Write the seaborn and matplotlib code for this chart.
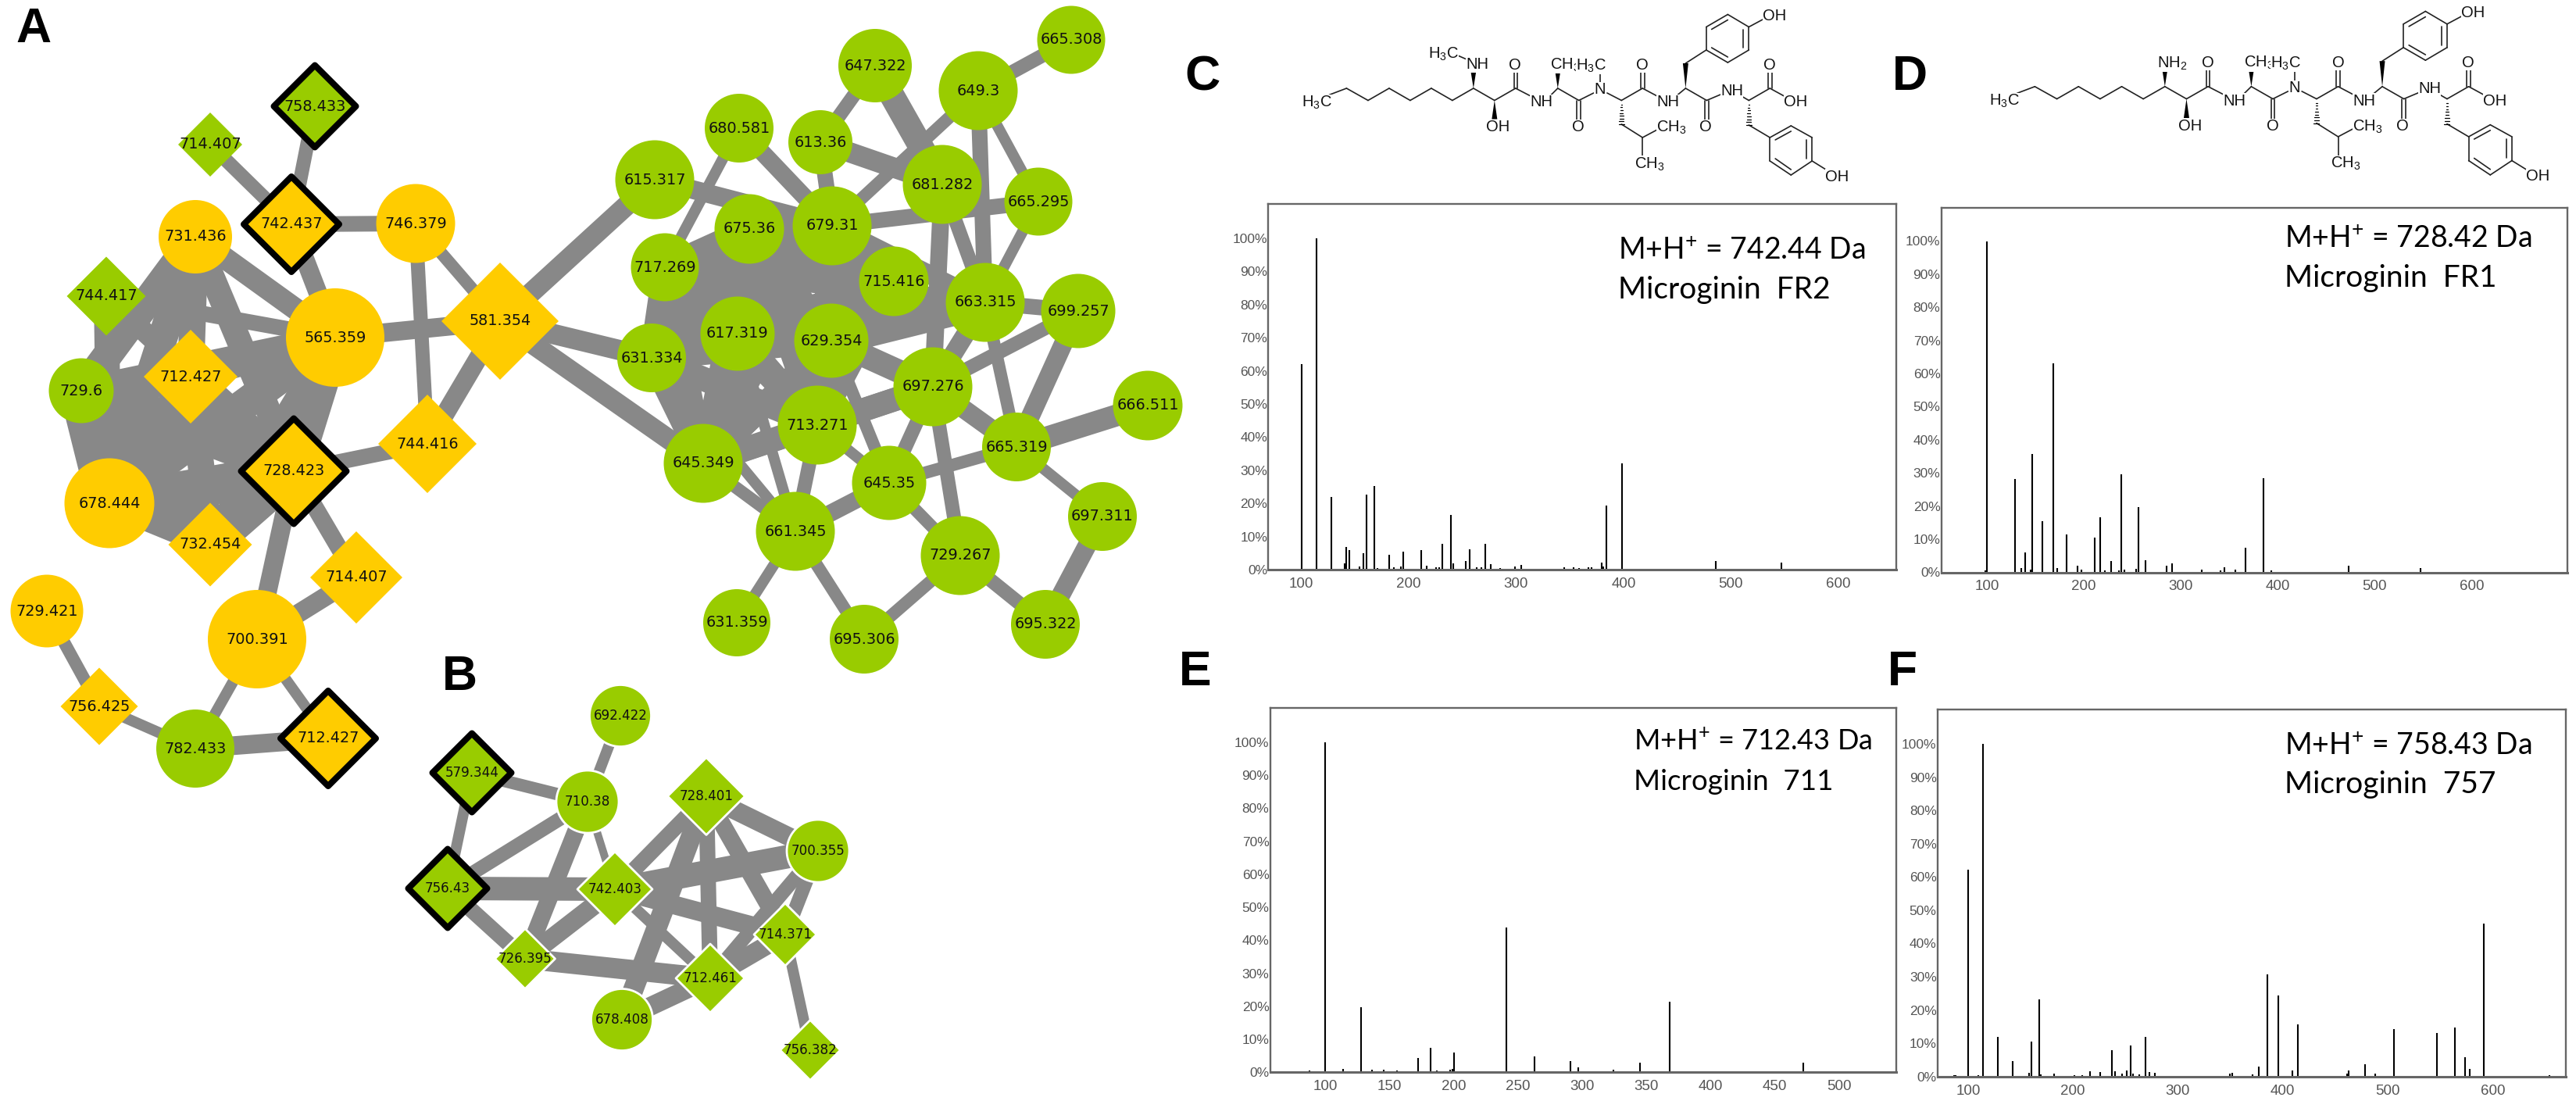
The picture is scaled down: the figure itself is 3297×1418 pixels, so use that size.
import matplotlib
matplotlib.use("Agg")
import matplotlib.pyplot as plt
import numpy as np
import pandas as pd
import seaborn as sns

W, H = 3298, 1418
PT = 0.72  # points per pixel at dpi=100
GREEN = "#99CC00"
ORANGE = "#FFCC00"
GREY = "#888888"

# network nodes: id, x, y, width in pixels, shape, colour
node_id = ["758.433", "714.407g", "742.437", "731.436", "746.379", "744.417", "565.359", "581.354",
           "712.427", "729.6", "728.423", "744.416", "678.444", "732.454", "714.407o", "729.421",
           "700.391", "756.425", "782.433", "712.427b",
           "665.308", "647.322", "649.3", "680.581", "613.36", "615.317", "681.282", "665.295",
           "675.36", "679.31", "717.269", "715.416", "663.315", "699.257", "617.319", "629.354",
           "631.334", "697.276", "666.511", "713.271", "665.319", "645.349", "645.35", "697.311",
           "661.345", "729.267", "631.359", "695.306", "695.322",
           "692.422", "579.344", "710.38", "728.401", "700.355", "756.43", "742.403", "726.395",
           "714.371", "712.461", "678.408", "756.382"]
node_x = [403, 269, 373, 250, 532, 136, 429, 640, 244, 104, 376, 547, 140, 269, 456, 60, 329, 127, 250, 420,
          1371, 1120, 1252, 946, 1050, 838, 1206, 1329, 959, 1065, 851, 1144, 1261, 1380, 944, 1064,
          834, 1194, 1469, 1046, 1301, 900, 1138, 1411, 1018, 1229, 943, 1106, 1338,
          794, 604, 752, 904, 1047, 573, 787, 672, 1005, 909, 796, 1037]
node_y = [136, 185, 287, 303, 286, 379, 432, 411, 482, 500, 603, 568, 644, 697, 739, 782, 818, 904, 958, 945,
          51, 84, 116, 164, 182, 230, 236, 258, 293, 289, 342, 360, 387, 398, 427, 436,
          458, 495, 519, 544, 572, 593, 618, 661, 680, 711, 797, 818, 799,
          916, 989, 1026, 1019, 1089, 1137, 1138, 1227, 1196, 1252, 1305, 1344]
node_w = [113, 82, 130, 94, 101, 101, 126, 150, 120, 83, 143, 126, 115, 107, 118, 93, 126, 99, 100, 130,
          87, 94, 101, 88, 82, 101, 101, 87, 89, 101, 87, 89, 101, 95, 95, 95,
          88, 101, 89, 101, 88, 101, 95, 88, 101, 101, 86, 88, 88,
          79, 109, 80, 99, 80, 109, 96, 77, 80, 88, 79, 77]
diamond_ids = ["758.433", "714.407g", "742.437", "744.417", "581.354", "712.427", "728.423", "744.416",
               "732.454", "714.407o", "756.425", "712.427b", "579.344", "728.401", "756.43", "742.403",
               "726.395", "714.371", "712.461", "756.382"]
orange_ids = ["742.437", "731.436", "746.379", "565.359", "581.354", "712.427", "728.423", "744.416",
              "678.444", "732.454", "714.407o", "729.421", "700.391", "756.425", "712.427b"]
ringed_ids = ["758.433", "742.437", "728.423", "712.427b", "579.344", "756.43"]
panel_b_ids = node_id[49:]

# network edges: node a, node b, width in pixels
edges_left = [("758.433", "742.437", 18), ("714.407g", "742.437", 18), ("742.437", "746.379", 20),
              ("742.437", "565.359", 24), ("746.379", "581.354", 16), ("746.379", "744.416", 18),
              ("565.359", "581.354", 24), ("581.354", "744.416", 24),
              ("731.436", "565.359", 28), ("731.436", "728.423", 32), ("731.436", "712.427", 34),
              ("731.436", "678.444", 38), ("731.436", "729.6", 38), ("744.417", "728.423", 26),
              ("744.417", "678.444", 32), ("744.417", "565.359", 20), ("565.359", "712.427", 34),
              ("565.359", "728.423", 44), ("565.359", "729.6", 34), ("565.359", "678.444", 40),
              ("565.359", "732.454", 34), ("712.427", "729.6", 40), ("712.427", "728.423", 40),
              ("712.427", "678.444", 40), ("712.427", "732.454", 34), ("729.6", "728.423", 44),
              ("729.6", "678.444", 56), ("729.6", "732.454", 38), ("728.423", "678.444", 50),
              ("728.423", "732.454", 46), ("678.444", "732.454", 32), ("728.423", "744.416", 20),
              ("728.423", "700.391", 24), ("728.423", "714.407o", 22), ("700.391", "714.407o", 24),
              ("700.391", "782.433", 14), ("700.391", "712.427b", 14), ("782.433", "712.427b", 24),
              ("782.433", "756.425", 14), ("756.425", "729.421", 16)]
edges_bridge = [("581.354", "615.317", 26), ("581.354", "631.334", 26), ("581.354", "645.349", 26)]
edges_right = [("665.308", "649.3", 18), ("647.322", "613.36", 18), ("647.322", "681.282", 32),
               ("649.3", "679.31", 16), ("649.3", "663.315", 20), ("649.3", "665.295", 14),
               ("680.581", "717.269", 14), ("680.581", "679.31", 22), ("613.36", "679.31", 20),
               ("613.36", "681.282", 26), ("615.317", "679.31", 24), ("681.282", "663.315", 18),
               ("681.282", "697.276", 22), ("665.295", "679.31", 20), ("665.295", "663.315", 14),
               ("663.315", "699.257", 20), ("663.315", "665.319", 16), ("663.315", "697.276", 24),
               ("679.31", "663.315", 24), ("699.257", "697.276", 18), ("699.257", "665.319", 24),
               ("697.276", "665.319", 24), ("697.276", "629.354", 30), ("697.276", "645.35", 18),
               ("697.276", "729.267", 18), ("697.276", "713.271", 30), ("666.511", "665.319", 28),
               ("665.319", "645.35", 16), ("665.319", "697.311", 14), ("645.35", "661.345", 22),
               ("645.35", "729.267", 16), ("645.35", "713.271", 14), ("645.35", "629.354", 16),
               ("645.349", "661.345", 16), ("713.271", "661.345", 18), ("617.319", "661.345", 14),
               ("631.334", "661.345", 14), ("645.349", "631.334", 14), ("661.345", "631.359", 14),
               ("729.267", "695.306", 16), ("695.306", "661.345", 16), ("697.311", "695.322", 24),
               ("695.322", "729.267", 18), ("663.315", "629.354", 40), ("645.349", "697.276", 30),
               ("717.269", "663.315", 24), ("617.319", "663.315", 26), ("717.269", "697.276", 20)]
core_right = ["675.36", "679.31", "717.269", "715.416", "617.319", "629.354", "631.334", "713.271", "645.349"]
edges_b = [("692.422", "710.38", 14), ("579.344", "710.38", 16), ("579.344", "756.43", 14),
           ("756.43", "710.38", 18), ("756.43", "742.403", 30), ("756.43", "726.395", 20),
           ("710.38", "726.395", 22), ("710.38", "742.403", 10), ("742.403", "726.395", 24),
           ("726.395", "712.461", 26), ("728.401", "700.355", 24), ("728.401", "742.403", 20),
           ("728.401", "712.461", 20), ("728.401", "678.408", 26), ("728.401", "714.371", 22),
           ("700.355", "742.403", 30), ("700.355", "714.371", 18), ("700.355", "712.461", 18),
           ("742.403", "714.371", 24), ("742.403", "712.461", 14),
           ("714.371", "712.461", 24), ("712.461", "678.408", 24), ("714.371", "756.382", 14)]

# spectra: m/z and relative intensity (%)
c_mz = [100.4, 114, 128, 140, 142, 145, 154, 157.5, 160.5, 167.7, 171, 182, 186, 193, 195, 211.5, 217, 225.7,
        228.6, 231, 239, 241.6, 253, 256.6, 263, 268, 271, 276.5, 285, 299, 305, 321.4, 327.6, 344.8, 353.5,
        358.5, 367, 370, 380, 381.5, 384, 398.7, 486, 547]
c_int = [62, 100, 22, 2, 6.8, 6, 1, 5, 22.6, 25.3, 0.4, 4.4, 0.7, 1, 5.4, 5.8, 1.2, 0.7,
         0.7, 7.7, 16.5, 2, 2.7, 6.2, 0.8, 0.8, 7.7, 1.7, 0.4, 0.9, 1.4, 0.3, 0.3, 0.8, 0.7,
         0.5, 0.8, 0.8, 2.2, 1, 19.3, 32, 2.5, 2.2]
d_mz = [98, 99.6, 128.6, 135, 139, 144.8, 146.6, 156.8, 168.3, 172.5, 182, 193, 197.4, 211, 216.8, 222, 227.9,
        236, 238.5, 242, 253.7, 256.5, 263.4, 285.6, 290.7, 321.6, 341, 345.2, 355.8, 366.9, 384.9, 393, 473, 547.4]
d_int = [0.5, 100, 28.2, 1.4, 5.9, 0.8, 35.7, 15.4, 63, 1.3, 11.4, 2, 0.9, 10.4, 16.6, 0.6, 3.5,
         0.6, 29.7, 0.8, 1, 19.6, 3.7, 2.1, 2.6, 0.9, 0.7, 1.5, 0.8, 7.5, 28.4, 0.5, 2, 1.2]
e_mz = [87.8, 100, 114, 127.6, 136, 145.4, 155.5, 172, 181.7, 187, 197, 199, 200.3, 240.8, 262.8, 290.7, 297,
        306.5, 324, 345, 368, 472]
e_int = [0.5, 100, 1, 19.6, 0.7, 0.8, 0.6, 4.3, 7.3, 0.6, 0.7, 1, 6, 43.8, 4.8, 3.4, 1.5,
         0.3, 0.7, 2.8, 21.4, 2.9]
f_mz = [86.8, 88.5, 100.4, 109.4, 114.5, 128.6, 142.2, 158, 160, 167.8, 169, 182.3, 201, 208.8, 216.5, 225.8,
        237, 240.2, 247, 251, 254.9, 257.4, 263.4, 269, 273, 278, 349.6, 351.7, 371, 377.3, 385.4, 396, 409.3,
        414, 461, 462.6, 478.4, 488, 506, 547, 563.7, 573.5, 577.8, 591.5, 654]
f_int = [0.4, 0.4, 62.3, 0.4, 100, 11.9, 4.6, 1.1, 10.5, 23.1, 0.6, 0.9, 0.4, 0.5, 1.7, 1.3,
         8, 1.5, 0.9, 1.9, 9.4, 0.9, 0.6, 12, 1.3, 1.1, 0.9, 1.1, 0.6, 2.9, 30.7, 24.3, 1.9,
         15.6, 0.9, 1.8, 3.8, 0.8, 14.2, 13.2, 14.8, 5.9, 2.3, 46, 0.5]
y_ticks = [0, 10, 20, 30, 40, 50, 60, 70, 80, 90, 100]
x_ticks_wide = [100, 200, 300, 400, 500, 600]
x_ticks_e = [100, 150, 200, 250, 300, 350, 400, 450, 500]

panel_letters = ["A", "B", "C", "D", "E", "F"]
letter_x = [20, 566, 1516, 2422, 1509, 2416]
letter_y = [54, 883, 115, 115, 877, 877]
mass_lines = ["M+H$^{+}$ = 742.44 Da", "M+H$^{+}$ = 728.42 Da", "M+H$^{+}$ = 712.43 Da", "M+H$^{+}$ = 758.43 Da"]
name_lines = ["Microginin  FR2", "Microginin  FR1", "Microginin  711", "Microginin  757"]

# structure drawing, traced in a 1742x2000-ish grid
bonds = [(385, 243, 424, 226), (424, 226, 472, 257), (472, 257, 519, 226), (519, 226, 566, 257),
         (566, 257, 613, 226), (613, 226, 660, 257), (660, 257, 707, 226), (707, 226, 754, 257),
         (754, 257, 801, 226), (801, 226, 838, 248), (880, 243, 895, 226), (895, 226, 942, 257),
         (942, 257, 975, 238), (989, 212, 989, 185), (1005, 238, 1037, 257), (1037, 257, 1084, 226),
         (1084, 226, 1120, 248), (1037, 318, 1084, 352), (1084, 352, 1120, 330), (1084, 352, 1084, 402),
         (1162, 243, 1180, 226), (1180, 226, 1227, 257), (1180, 162, 1226, 128), (1321, 69, 1355, 48),
         (1227, 257, 1262, 240), (1300, 243, 1321, 257), (1321, 257, 1368, 226), (1368, 226, 1403, 248),
         (1321, 320, 1368, 352), (1462, 412, 1497, 437),
         (1226, 69, 1274, 37), (1274, 37, 1321, 69), (1321, 69, 1321, 128), (1321, 128, 1274, 160),
         (1274, 160, 1226, 128), (1226, 128, 1226, 69), (1238, 75, 1274, 51), (1309, 75, 1309, 122),
         (1238, 122, 1274, 146),
         (1368, 352, 1415, 322), (1415, 322, 1462, 352), (1462, 352, 1462, 412), (1462, 412, 1415, 448),
         (1415, 448, 1368, 412), (1368, 412, 1368, 352), (1380, 358, 1415, 336), (1450, 358, 1450, 406),
         (1380, 406, 1415, 434),
         (797, 226, 797, 182), (805, 226, 805, 182), (938, 257, 938, 310), (946, 257, 946, 310),
         (1080, 226, 1080, 182), (1088, 226, 1088, 182), (1223, 257, 1223, 310), (1231, 257, 1231, 310),
         (1364, 226, 1364, 182), (1372, 226, 1372, 182)]
methyl_bonds = [(668, 140, 698, 155)]
wedges = [(707, 226, 707, 182), (754, 257, 754, 305), (895, 226, 895, 182), (1180, 226, 1180, 162)]
hashes = [(1037, 257, 1037, 318), (1321, 257, 1321, 320)]
atoms = [("H$_3$C", 357, 263), ("OH", 762, 325), ("O", 800, 167), ("NH", 858, 262), ("CH$_3$", 912, 167),
         ("O", 941, 326), ("H$_3$C", 970, 168), ("N", 989, 230), ("O", 1084, 167), ("NH", 1140, 262),
         ("CH$_3$", 1148, 327), ("CH$_3$", 1100, 420), ("O", 1224, 326), ("NH", 1283, 232), ("O", 1367, 167),
         ("OH", 1425, 262), ("OH", 1378, 40), ("OH", 1518, 452)]


def c_xy(x, y):
    return 1480 + x / 1.742, y / 2.0


def d_xy(x, y):
    return 2400 + (288 + (x - 357) * 1.027) / 1.746, (32 + (y - 40) * 1.019) / 2.0


def draw_structure(ax, to_xy, amine, amine_xy, methyl):
    for x0, y0, x1, y1 in bonds + (methyl_bonds if methyl else []):
        a, b = to_xy(x0, y0), to_xy(x1, y1)
        ax.plot([a[0], b[0]], [a[1], b[1]], color="#222222", lw=1.2, zorder=5, solid_capstyle="round")
    for x0, y0, x1, y1 in wedges:
        a, b = to_xy(x0, y0), to_xy(x1, y1)
        sx = 3.5
        ax.fill([a[0], b[0] - sx, b[0] + sx], [a[1], b[1], b[1]], color="black", lw=0, zorder=5)
    for x0, y0, x1, y1 in hashes:
        a, b = to_xy(x0, y0), to_xy(x1, y1)
        for t in np.linspace(0.05, 1, 9):
            yy = a[1] + (b[1] - a[1]) * t
            ax.plot([a[0] - 3.5 * t, a[0] + 3.5 * t], [yy, yy], color="black", lw=0.9, zorder=5)
    for label, x, y in atoms + [(amine, amine_xy[0], amine_xy[1])] + ([("H$_3$C", 640, 138)] if methyl else []):
        px, py = to_xy(x, y)
        ax.text(px, py, label, fontsize=14.5, ha="center", va="center", family="Liberation Sans",
                color="#111111", zorder=6, bbox=dict(facecolor="white", edgecolor="none", pad=0.2))


def spectrum(box, xlim, mz, intensity, xticks):
    left, upper, right, bottom, y100 = box
    ax = fig.add_axes([left / W, 1 - bottom / H, (right - left) / W, (bottom - upper) / H], zorder=1)
    ax.vlines(mz, 0, intensity, color="black", lw=1.5)
    ax.set_xlim(*xlim)
    ax.set_ylim(0, 100 * (bottom - upper) / (bottom - y100))
    ax.set_xticks(xticks)
    ax.set_yticks(y_ticks)
    ax.set_yticklabels([f"{v}%" for v in y_ticks])
    ax.tick_params(axis="x", length=2, width=1, color="#555555", labelcolor="#555555", labelsize=13.5, pad=5)
    ax.tick_params(axis="y", length=0, labelcolor="#555555", labelsize=12.5, pad=1)
    for s in ax.spines.values():
        s.set_color("#666666")
        s.set_linewidth(1.7)
        s.set_visible(True)
    ax.spines["bottom"].set_linewidth(2.2)
    return ax


sns.set_theme(style="white")
plt.rcParams["font.family"] = ["Liberation Sans", "DejaVu Sans"]
plt.rcParams["mathtext.default"] = "regular"

fig = plt.figure(figsize=(W / 100, H / 100), dpi=100, facecolor="white")

spectrum((1623.5, 261, 2427, 729, 305), (69.4, 654), c_mz, c_int, x_ticks_wide)
spectrum((2484.8, 265.5, 3286, 732.5, 308.5), (53, 698.7), d_mz, d_int, x_ticks_wide)
spectrum((1625.8, 906.4, 2427, 1372.3, 949.8), (57, 544.6), e_mz, e_int, x_ticks_e)
spectrum((2480, 908.4, 3283.7, 1377.8, 952), (71, 669.5), f_mz, f_int, x_ticks_wide)

ax = fig.add_axes([0, 0, 1, 1], zorder=3)
ax.patch.set_visible(False)

pos = dict(zip(node_id, zip(node_x, node_y)))
core_edges = [(a, b, 31) for i, a in enumerate(core_right) for b in core_right[i + 1:]]
edges = edges_left + edges_bridge + edges_right + core_edges + edges_b
edge_df = pd.DataFrame(
    [{"edge": i, "x": pos[n][0], "y": pos[n][1], "w": w}
     for i, (a, b, w) in enumerate(edges) for n in (a, b)]
)
sns.lineplot(data=edge_df, x="x", y="y", units="edge", size="w", sizes=(10 * PT, 60 * PT), size_norm=(10, 60),
             estimator=None, sort=False, color=GREY, legend=False, solid_capstyle="butt", ax=ax, zorder=2)

nodes = pd.DataFrame({"id": node_id, "x": node_x, "y": node_y, "w": node_w})
nodes["label"] = nodes["id"].str.rstrip("gob")
nodes["shape"] = np.where(nodes["id"].isin(diamond_ids), "D", "o")
nodes["colour"] = np.where(nodes["id"].isin(orange_ids), "orange", "green")
nodes["ring"] = nodes["id"].isin(ringed_ids)
nodes["panel_b"] = nodes["id"].isin(panel_b_ids)
nodes["px"] = nodes["w"] - np.where(nodes["ring"], 8, 0)
nodes["s"] = (nodes["px"] * PT / np.where(nodes["shape"] == "D", 2 ** 0.5, 1.0)) ** 2

plain = nodes[~nodes["ring"] & ~nodes["panel_b"]]
soft = nodes[~nodes["ring"] & nodes["panel_b"]]
ringed = nodes[nodes["ring"]]
for part, edge, lw in [(plain, "none", 0), (soft, "white", 2.0), (ringed, "black", 8 * PT)]:
    sns.scatterplot(data=part, x="x", y="y", hue="colour", palette={"green": GREEN, "orange": ORANGE},
                    style="shape", markers={"D": "D", "o": "o"}, size="s", sizes=(500, 20000),
                    size_norm=(500, 20000), edgecolor=edge, linewidth=lw, joinstyle="round",
                    legend=False, ax=ax, zorder=3)

for row in nodes.itertuples():
    ax.text(row.x, row.y, row.label, fontsize=12.1 if row.panel_b else 13.9, ha="center", va="center",
            family="DejaVu Sans", color="#111111", zorder=4)

draw_structure(ax, c_xy, "NH", (716, 166), True)
draw_structure(ax, d_xy, "NH$_2$", (723, 168), False)

for letter, x, y in zip(panel_letters, letter_x, letter_y):
    ax.text(x, y, letter, fontsize=45, fontweight="bold", family="Liberation Sans", va="baseline", color="black", zorder=6)
for mass, name, x, y0, y1, size in zip(mass_lines, name_lines, [2071, 2924, 2091, 2924], [332, 317, 960, 965.5],
                                       [382, 367, 1011, 1015], [27, 27, 26, 27]):
    ax.text(x, y0, mass, fontsize=size, family="Lato", va="baseline", color="black", zorder=6)
    ax.text(x, y1, name, fontsize=size + 1 if size == 27 else size + 0.5, family="Lato", va="baseline", color="black", zorder=6)

ax.set_xlim(0, W)
ax.set_ylim(H, 0)
ax.axis("off")

fig.savefig("out.png", dpi=100, facecolor="white")
